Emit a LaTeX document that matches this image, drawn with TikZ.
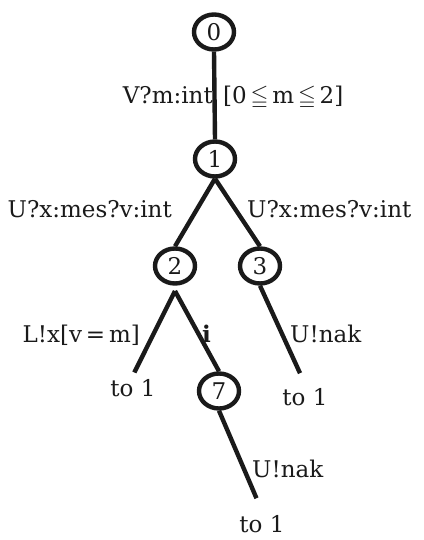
\documentclass[tikz,border=0pt]{standalone}
\usepackage{amsmath,amssymb}
\usepackage{fontspec}
\setmainfont{DejaVu Serif}
\usetikzlibrary{positioning, shapes.geometric}
\definecolor{inkblack}{HTML}{1A1A1A}
\tikzset{
    statenode/.style={ellipse, draw=inkblack, line width=4.4pt, minimum width=40pt, minimum height=35pt, inner sep=0pt, text=inkblack, font=\fontsize{23}{28}\selectfont},
    lbl/.style={inner sep=0pt, text=inkblack, font=\fontsize{23}{28}\selectfont},
    target/.style={lbl, inner sep=4pt},
    link/.style={line width=4.4pt, draw=inkblack}
}

\begin{document}
\begin{tikzpicture}[x=1pt, y=-1pt]
    \useasboundingbox (0,0) rectangle (423,540);
    % states
    \node[statenode] (s0) at (214,32) {0};
    \node[statenode] (s1) at (215,159) {1};
    \node[statenode] (s2) at (175,266) {2};
    \node[statenode] (s3) at (260,266) {3};
    \node[statenode] (s7) at (219,391) {7};
    \node[target] (back2) at (133,388) {to 1};
    \node[target] (back3) at (305,397) {to 1};
    \node[target] (back7) at (262,524) {to 1};
    \coordinate (fork2) at (175,291);
    % transitions
    \draw[link] (s0.south) -- (s1.north);
    \draw[link] (s1.south) -- (s2.north);
    \draw[link] (s1.south) -- (s3.north);
    \draw[link, shorten >=3pt] (fork2) -- (back2.north);
    \draw[link] (fork2) -- (s7.north);
    \draw[link, shorten >=12pt] (s3.south) -- (back3.north);
    \draw[link, shorten >=14pt] (s7.south) -- (back7.north);
    % labels
    \node[lbl, anchor=base east] (recvm) at (213,104) {V?m:int};
    \node[lbl, anchor=base west] (guardm) at (223,104) {[0\,$\leqq$\,m\,$\leqq$\,2]};
    \node[lbl, anchor=base east] (recv2) at (172,217) {U?x:mes?v:int};
    \node[lbl, anchor=base west] (recv3) at (247,217) {U?x:mes?v:int};
    \node[lbl, anchor=base east] (sendx) at (140,342) {L!x[v\,=\,m]};
    \node[lbl, anchor=base west] (tau) at (202,342) {\textbf{i}};
    \node[lbl, anchor=base west] (nak3) at (290,342) {U!nak};
    \node[lbl, anchor=base west] (nak7) at (252,477) {U!nak};
\end{tikzpicture}
\end{document}
